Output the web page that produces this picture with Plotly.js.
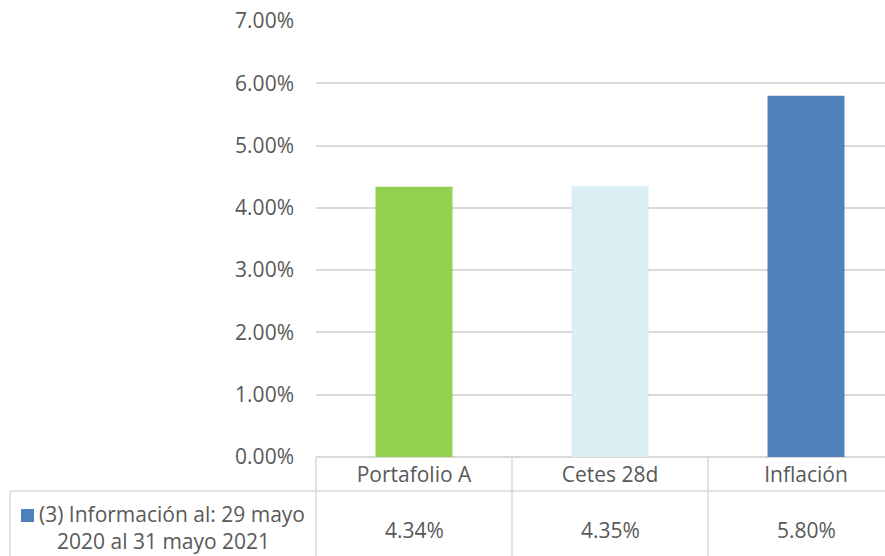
<!DOCTYPE html>
<html>
<head>
<meta charset="utf-8">
<script src="https://cdn.plot.ly/plotly-3.0.1.min.js"></script>
<style>html,body{margin:0;padding:0;background:#fff;overflow:hidden;}</style>
</head>
<body>
<div id="chart" style="width:885px;height:556px;"></div>
<script>
const categories = ["Portafolio A", "Cetes 28d", "Inflación"];
const values = [0.0434, 0.0435, 0.0580];
const barColors = ["#92D050", "#DAEEF3", "#4F81BD"];
const seriesLabelLines = ["(3) Información al: 29 mayo", "2020 al 31 mayo 2021"];
const seriesKeyColor = "#4F81BD";
const yTickVals = [0, 0.01, 0.02, 0.03, 0.04, 0.05, 0.06, 0.07];

const W = 885, H = 556;
const ml = 316, mr = 0, mt = 21, mb = 99;
const pw = W - ml - mr, ph = H - mt - mb;
const px = x => (x - ml) / pw;          // pixel x -> paper x
const py = y => (H - mb - y) / ph;      // pixel y -> paper y

const gray = "#D9D9D9";
const textColor = "#595959";
const font = "Open Sans";
const fs = 21;

const shapes = [];
shapes.push({type:"line", xref:"paper", yref:"paper", x0:0, x1:0, y0:0, y1:py(H+5), line:{color:gray, width:1.5}});
for (let i = 0; i < categories.length - 1; i++) {
  shapes.push({type:"line", xref:"x", yref:"paper", x0:i+0.5, x1:i+0.5, y0:0, y1:py(H+5), line:{color:gray, width:1.5}});
}
shapes.push({type:"line", xref:"paper", yref:"paper", x0:px(10), x1:1, y0:py(491), y1:py(491), line:{color:gray, width:1.5}});
shapes.push({type:"line", xref:"paper", yref:"paper", x0:px(10), x1:px(10), y0:py(491), y1:py(H+5), line:{color:gray, width:1.5}});
shapes.push({type:"rect", xref:"paper", yref:"paper", x0:px(21), x1:px(34), y0:py(522), y1:py(509), fillcolor:seriesKeyColor, line:{width:0}});

const annotations = [];
categories.forEach((c, i) => {
  annotations.push({x:i, xref:"x", y:py(530), yref:"paper", text:(values[i]*100).toFixed(2) + "%", showarrow:false,
    xanchor:"center", yanchor:"middle", font:{family:font, size:fs, color:textColor}});
});
annotations.push({x:px(37), xref:"paper", y:py(514), yref:"paper", text:seriesLabelLines[0], showarrow:false,
  xanchor:"left", yanchor:"middle", font:{family:font, size:fs, color:textColor}});
annotations.push({x:px(163), xref:"paper", y:py(541), yref:"paper", text:seriesLabelLines[1], showarrow:false,
  xanchor:"center", yanchor:"middle", font:{family:font, size:fs, color:textColor}});

const data = [{
  type:"bar",
  x:categories,
  y:values,
  marker:{color:barColors, line:{width:0}},
  width:0.393,
  hoverinfo:"none"
}];

const layout = {
  width:W, height:H,
  margin:{l:ml, r:mr, t:mt, b:mb, pad:0},
  paper_bgcolor:"#fff", plot_bgcolor:"#fff",
  showlegend:false,
  xaxis:{type:"category", range:[-0.5, -0.5 + pw/196], showgrid:false, zeroline:false,
    showline:false, ticks:"", ticklabelstandoff:3,
    tickfont:{family:font, size:fs, color:textColor}, fixedrange:true},
  yaxis:{range:[0, 0.07], tickvals:yTickVals, tickformat:".2%", showgrid:true, gridcolor:gray, gridwidth:2,
    zeroline:true, zerolinecolor:gray, zerolinewidth:2, showline:false, ticks:"", ticklabelstandoff:21,
    tickfont:{family:font, size:fs, color:textColor}, fixedrange:true},
  shapes:shapes,
  annotations:annotations
};

Plotly.newPlot("chart", data, layout, {displayModeBar:false, staticPlot:true});
</script>
</body>
</html>
